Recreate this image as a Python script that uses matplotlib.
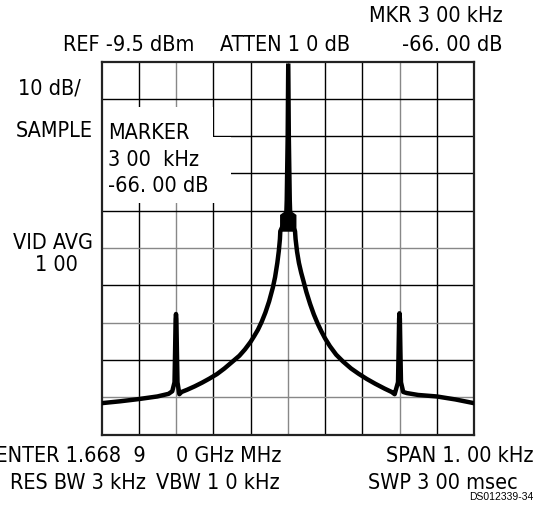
import numpy as np
import matplotlib
matplotlib.use("Agg")
import matplotlib.pyplot as plt
from matplotlib.patches import Rectangle

# ------------------------------
# spectrum trace (offset from centre in Hz, level in dB below REF)
# ------------------------------
trace_hz = [-500, -450, -400, -350, -320, -310, -304, -302.5, -301, -300, -299, -297.5,
            -296, -291, -285, -270, -250, -230, -210, -190, -170, -150, -130, -115,
            -100, -90, -80, -70, -60, -50, -40, -34, -28, -24, -21, -20, 0,
            19.5, 21, 25, 30, 36, 42, 50, 60, 70, 80, 90, 100, 113, 130, 148, 170,
            190, 212, 235, 260, 279, 287, 296, 297.5, 299, 300, 301, 302.5, 304,
            310, 320, 350, 400, 450, 500]
trace_db = [-91.6, -91.1, -90.5, -89.8, -89.1, -88.4, -86.0, -78.0, -69.0, -67.7, -69.0, -78.0,
            -86.0, -89.2, -88.6, -88.0, -87.1, -86.1, -85.0, -83.8, -82.3, -80.6, -78.9, -77.2,
            -75.2, -73.6, -71.9, -69.8, -67.3, -64.3, -60.6, -57.8, -54.0, -50.8, -47.6, -45.5, -41.0,
            -45.5, -47.6, -51.0, -54.0, -56.6, -58.8, -61.8, -65.0, -67.8, -70.2, -72.3, -74.2, -76.3, -78.6, -80.4, -82.3,
            -83.7, -85.1, -86.4, -87.7, -88.6, -89.2, -86.0, -78.0, -69.0, -67.5, -69.0, -78.0, -86.0,
            -88.6, -88.9, -89.4, -89.8, -90.6, -91.6]

# carrier "stick" (level, half width in Hz)
carrier_db = [-0.4, -20, -37, -40.2, -41, -45.5]
carrier_hw = [6.0, 7.5, 10.0, 11.0, 22.0, 22.0]

# grid
div_hz = np.arange(-500, 501, 100)
div_db = np.arange(-100, 1, 10)
grey_hz = [-300, 0, 300]
grey_db = [-50, -70, -90]

W, H = 539, 506
fig = plt.figure(figsize=(W / 100, H / 100), dpi=100)
ax = fig.add_axes([101.5 / W, 1 - 435.5 / H, 372.5 / W, 373 / H])
ax.set_xlim(-500, 500)
ax.set_ylim(-100, 0)
ax.set_xticks([])
ax.set_yticks([])
for s in ax.spines.values():
    s.set_linewidth(1.6)
    s.set_color('#222222')

for v in div_hz[1:-1]:
    ax.axvline(v, color='#888888' if v in grey_hz else 'black', lw=1.0, zorder=1)
for v in div_db[1:-1]:
    ax.axhline(v, color='#888888' if v in grey_db else 'black', lw=1.0, zorder=1)

# white area behind the marker readout
ax.add_patch(Rectangle((0, 0.6206), 0.30, 0.257, transform=ax.transAxes,
                       facecolor='white', edgecolor='none', zorder=2))
ax.add_patch(Rectangle((0.29, 0.6206), 0.058, 0.178, transform=ax.transAxes,
                       facecolor='white', edgecolor='none', zorder=2))

ax.fill_betweenx(carrier_db, [-w for w in carrier_hw], carrier_hw, color='black', lw=0, zorder=4)
ax.plot(trace_hz, trace_db, color='black', lw=3.2, solid_joinstyle='round', zorder=4)

fam = ['DejaVu Sans', 'Liberation Sans']
fs = 15.5


def t(x, y, s, ha='left', **kw):
    kw.setdefault('fontsize', fs)
    kw.setdefault('family', fam)
    kw.setdefault('fontstretch', 'condensed')
    fig.text(x / W, 1 - y / H, s, ha=ha, va='center', **kw)


t(503, 16, "MKR 3 00 kHz", ha='right')
t(63, 45, "REF -9.5 dBm")
t(220, 45, "ATTEN 1 0 dB")
t(503, 45, "-66. 00 dB", ha='right')
t(18, 88, "10 dB/")
t(16, 131, "SAMPLE")
t(108, 133, "MARKER")
t(108, 160, "3 00  kHz")
t(108, 186, "-66. 00 dB")
t(13, 243, "VID AVG")
t(35, 265, "1 00")
t(146, 456, "CENTER 1.668  9", ha='right')
t(176, 456, "0 GHz MHz")
t(534, 456, "SPAN 1. 00 kHz", ha='right')
t(10, 483, "RES BW 3 kHz")
t(156, 483, "VBW 1 0 kHz")
t(368, 483, "SWP 3 00 msec")
t(533, 497, "DS012339-34", ha='right', fontsize=7.5, family=['Liberation Sans', 'DejaVu Sans'],
  fontstretch='normal')

fig.savefig("out.png", dpi=100)
